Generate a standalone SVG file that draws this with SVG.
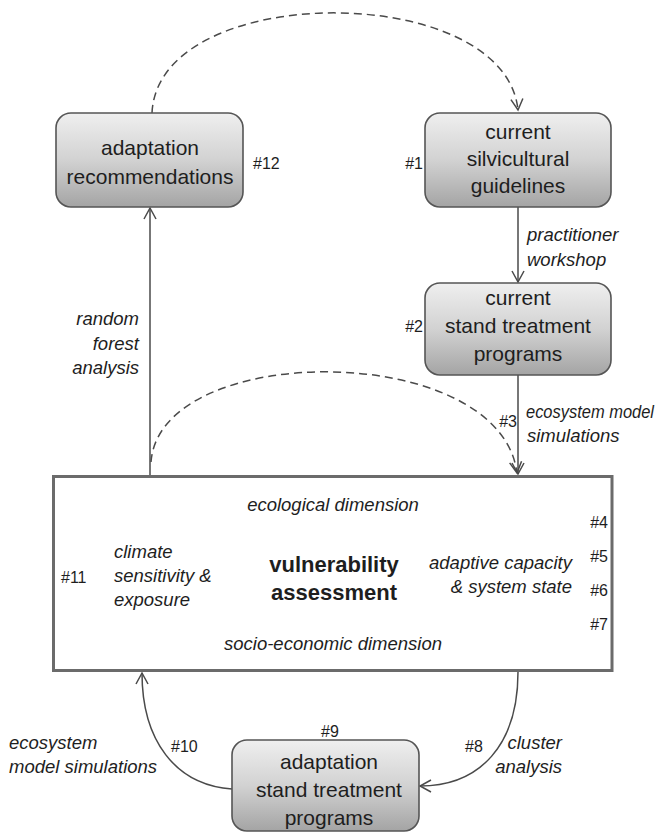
<svg xmlns="http://www.w3.org/2000/svg" width="669" height="833" viewBox="0 0 669 833">
<defs>
<linearGradient id="g" x1="0" y1="0" x2="0" y2="1">
<stop offset="0" stop-color="#efefef"/>
<stop offset="0.5" stop-color="#d2d2d2"/>
<stop offset="1" stop-color="#a4a4a4"/>
</linearGradient>
<marker id="ar" markerUnits="userSpaceOnUse" viewBox="-12 -7 14 14" refX="0" refY="0" markerWidth="14" markerHeight="14" orient="auto">
<path d="M-11,-6 L0,0 L-11,6" fill="none" stroke="#4a4a4a" stroke-width="1.5"/>
</marker>
<style>
.box{fill:url(#g);stroke:#555;stroke-width:1.6}
.t{font-family:"Liberation Sans",Arial,sans-serif;font-size:21px;fill:#1e1e1e;text-anchor:middle}
.n{font-family:"Liberation Sans",Arial,sans-serif;font-size:16px;fill:#1e1e1e}
.i{font-family:"Liberation Sans",Arial,sans-serif;font-size:18.5px;font-style:italic;fill:#1e1e1e}
.c{fill:none;stroke:#4a4a4a;stroke-width:1.5}
.d{stroke-dasharray:8 5}
</style>
</defs>
<g id="connectors">
<path class="c d" d="M152,113 C158,-20 505,-20 518,110" marker-end="url(#ar)"/>
<path class="c" d="M150,476 L150,208" marker-end="url(#ar)"/>
<path class="c" d="M518,207 L518,282" marker-end="url(#ar)"/>
<path class="c" d="M518,375 L518,474" marker-end="url(#ar)"/>
<path class="c d" d="M151,462 C160,340 500,340 517,473" marker-end="url(#ar)"/>
<path class="c" d="M232,789 C175,785 142,740 142,673" marker-end="url(#ar)"/>
<path class="c" d="M518,672 C518,745 480,786 420,786" marker-end="url(#ar)"/>
<text class="i" x="527" y="241">practitioner</text>
<text class="i" x="527" y="266">workshop</text>
<text class="i" x="526" y="418" font-size="16.5" textLength="128" lengthAdjust="spacingAndGlyphs">ecosystem model</text>
<text class="i" x="527" y="442">simulations</text>
<text class="i" x="139" y="325" text-anchor="end">random</text>
<text class="i" x="139" y="350" text-anchor="end">forest</text>
<text class="i" x="139" y="374" text-anchor="end">analysis</text>
<text class="i" x="9" y="749">ecosystem</text>
<text class="i" x="9" y="773">model simulations</text>
<text class="i" x="562" y="749" text-anchor="end">cluster</text>
<text class="i" x="562" y="773" text-anchor="end">analysis</text>
</g>
<g id="n12">
<rect class="box" x="56" y="113" width="187" height="94" rx="15"/>
<text class="t" x="150" y="155">adaptation</text>
<text class="t" x="150" y="184">recommendations</text>
<text class="n" x="253" y="169">#12</text>
</g>
<g id="n1">
<rect class="box" x="425" y="113" width="186" height="94" rx="15"/>
<text class="t" x="518" y="139">current</text>
<text class="t" x="518" y="166">silvicultural</text>
<text class="t" x="518" y="193">guidelines</text>
<text class="n" x="423" y="169" text-anchor="end">#1</text>
</g>
<g id="n2">
<rect class="box" x="425" y="283" width="186" height="92" rx="15"/>
<text class="t" x="518" y="305">current</text>
<text class="t" x="518" y="333">stand treatment</text>
<text class="t" x="518" y="361">programs</text>
<text class="n" x="423" y="332" text-anchor="end">#2</text>
<text class="n" x="517" y="427" text-anchor="end">#3</text>
</g>
<g id="vulnerability">
<rect x="53.5" y="476.5" width="558.5" height="194" fill="#fff" stroke="#6b6b6b" stroke-width="3"/>
<text class="i" x="333" y="511" text-anchor="middle">ecological dimension</text>
<text class="i" x="333" y="650" text-anchor="middle">socio-economic dimension</text>
<text x="334" y="572" text-anchor="middle" font-family="'Liberation Sans',Arial,sans-serif" font-size="22" font-weight="bold" fill="#1e1e1e">vulnerability</text>
<text x="334" y="600" text-anchor="middle" font-family="'Liberation Sans',Arial,sans-serif" font-size="22" font-weight="bold" fill="#1e1e1e">assessment</text>
<text class="i" x="114" y="558">climate</text>
<text class="i" x="114" y="582">sensitivity &amp;</text>
<text class="i" x="114" y="606">exposure</text>
<text class="i" x="572" y="569" text-anchor="end">adaptive capacity</text>
<text class="i" x="572" y="593" text-anchor="end">&amp; system state</text>
<text class="n" x="608" y="528" text-anchor="end">#4</text>
<text class="n" x="608" y="562" text-anchor="end">#5</text>
<text class="n" x="608" y="596" text-anchor="end">#6</text>
<text class="n" x="608" y="630" text-anchor="end">#7</text>
<text class="n" x="61" y="583">#11</text>
</g>
<g id="n9">
<rect class="box" x="232" y="740" width="187" height="91" rx="15"/>
<text class="t" x="329" y="769">adaptation</text>
<text class="t" x="329" y="797">stand treatment</text>
<text class="t" x="329" y="825">programs</text>
<text class="n" x="330" y="737" text-anchor="middle">#9</text>
<text class="n" x="171" y="752">#10</text>
<text class="n" x="465" y="752">#8</text>
</g>
</svg>
